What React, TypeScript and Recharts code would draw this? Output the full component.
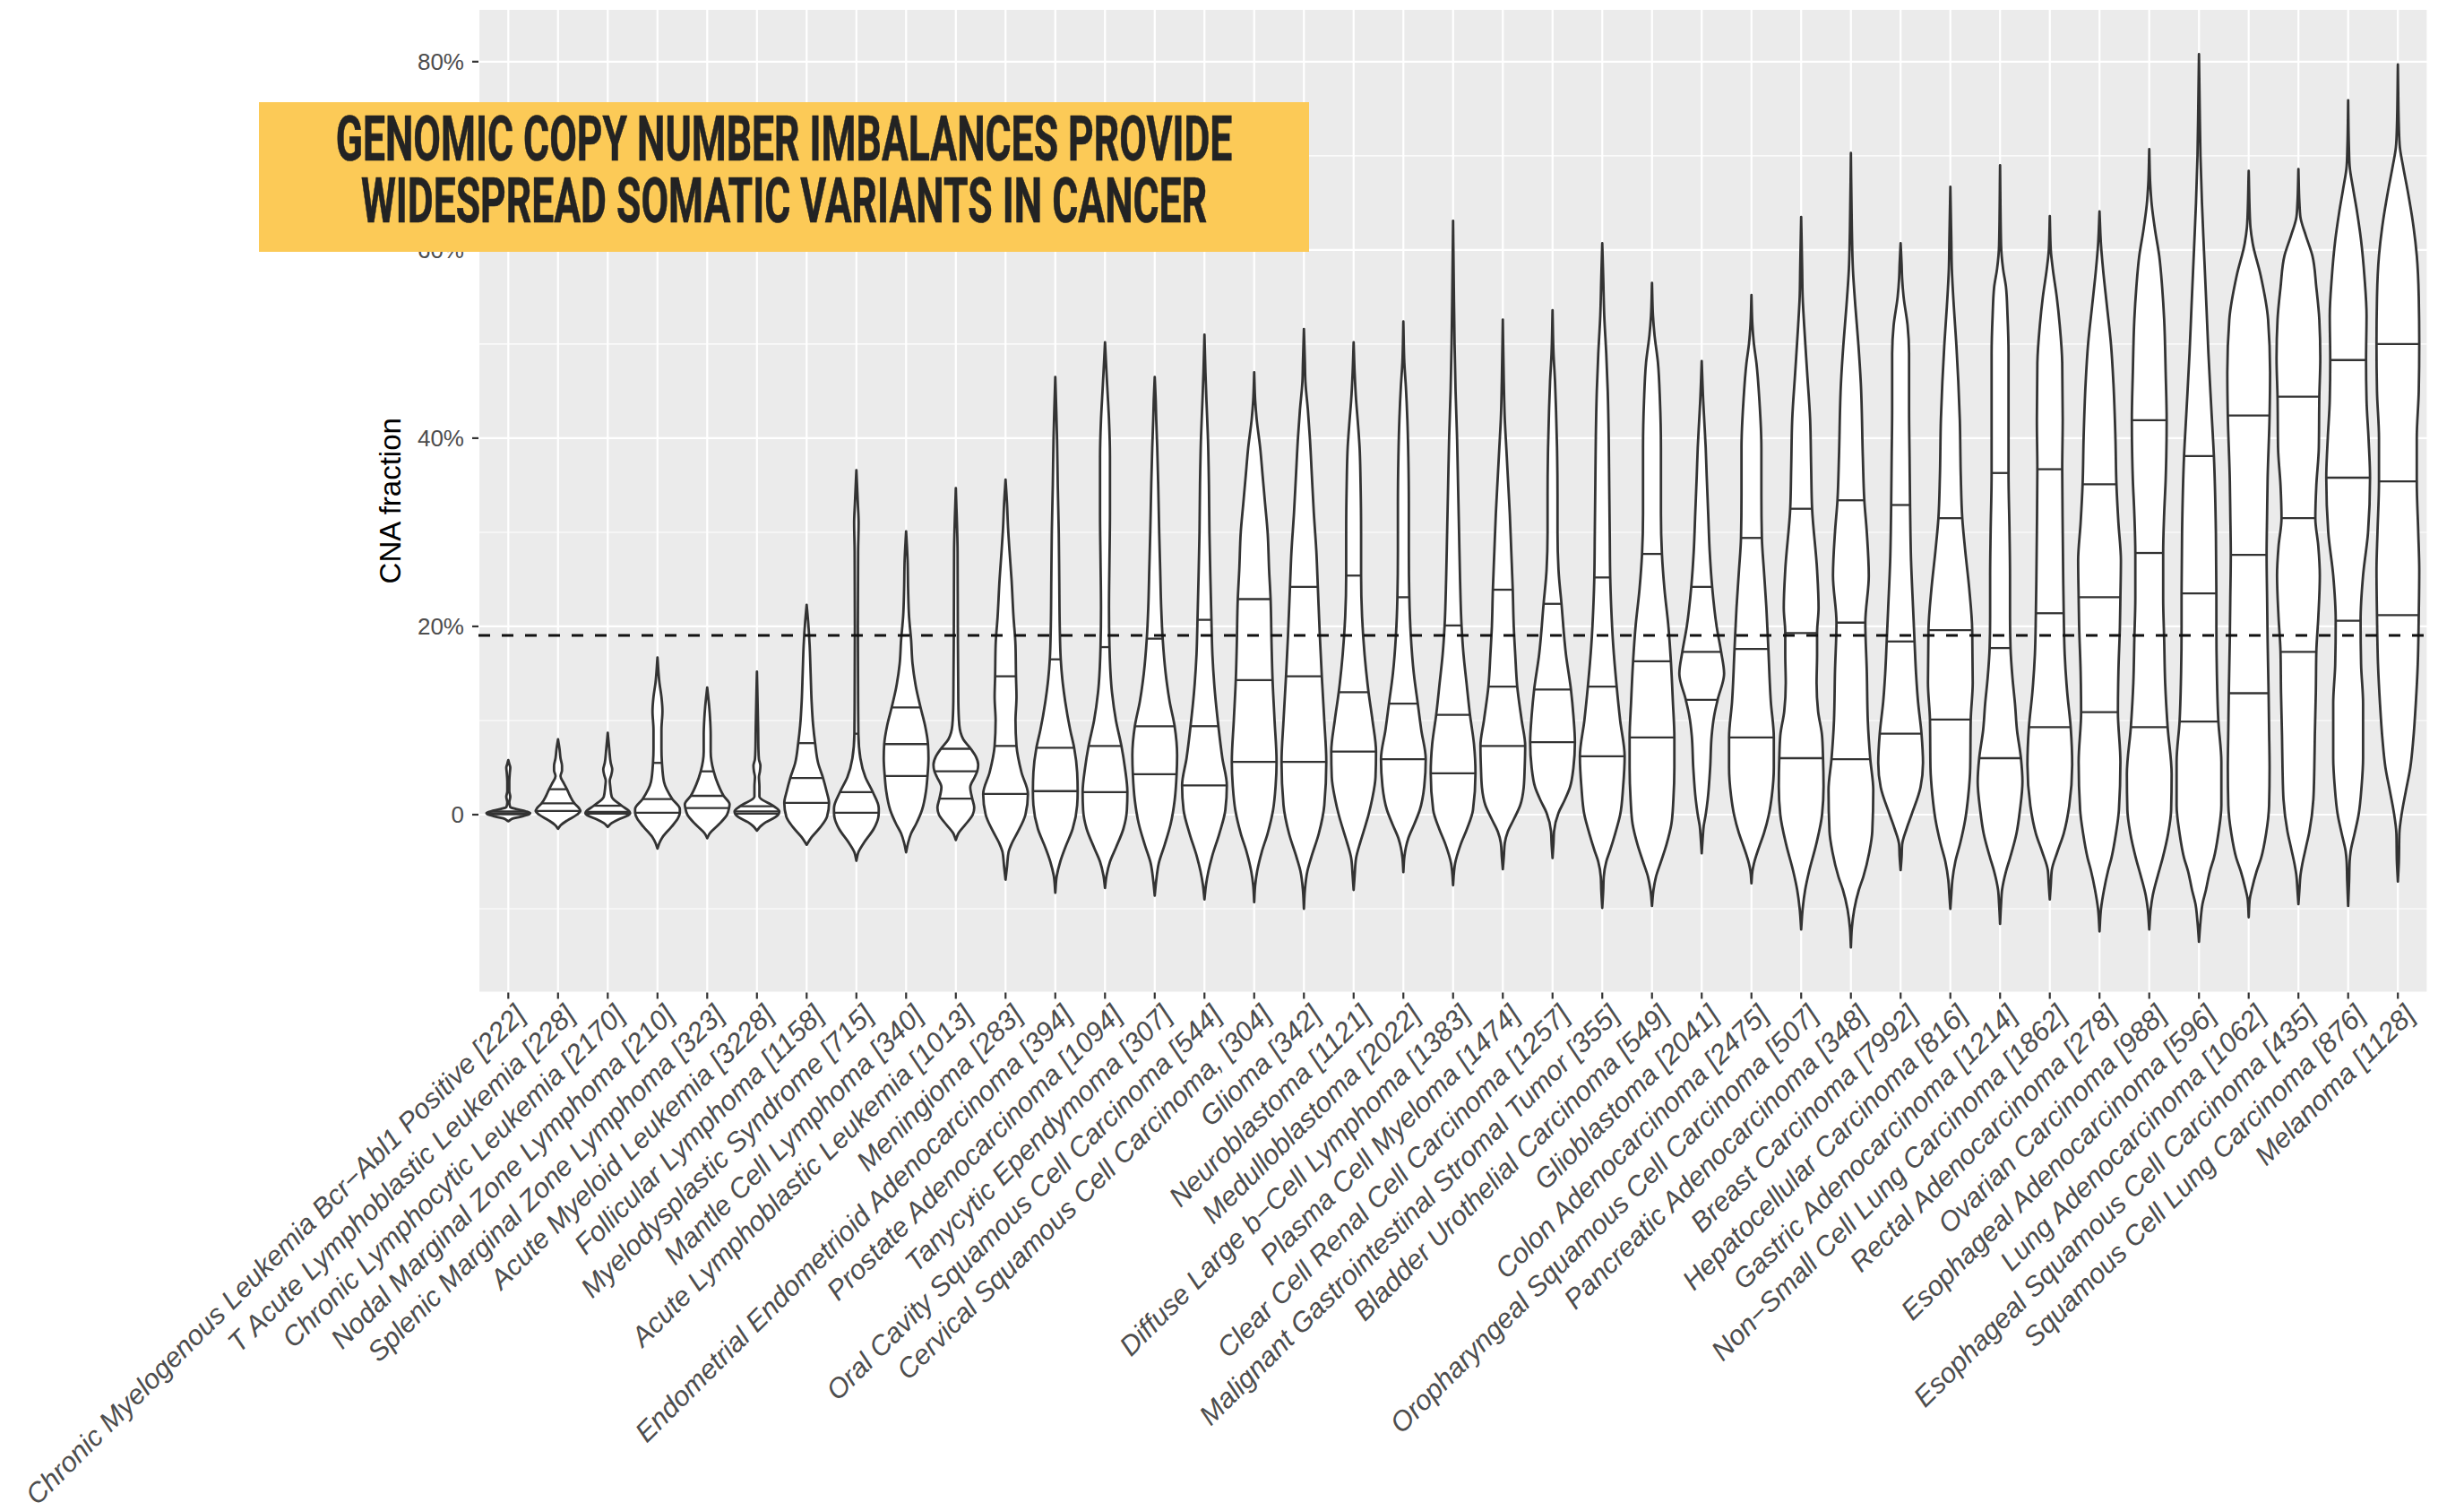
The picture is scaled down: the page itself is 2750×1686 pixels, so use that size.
import React, { useLayoutEffect, useRef, useState } from 'react';
import { ComposedChart, XAxis, YAxis, CartesianGrid, Scatter, ReferenceLine } from 'recharts';

// Tumour types with sample counts, in plotting order
const CATEGORIES: string[] = [
  'Chronic Myelogenous Leukemia Bcr\u2212Abl1 Positive [222]',
  'T Acute Lymphoblastic Leukemia [228]',
  'Chronic Lymphocytic Leukemia [2170]',
  'Nodal Marginal Zone Lymphoma [210]',
  'Splenic Marginal Zone Lymphoma [323]',
  'Acute Myeloid Leukemia [3228]',
  'Follicular Lymphoma [1158]',
  'Myelodysplastic Syndrome [715]',
  'Mantle Cell Lymphoma [340]',
  'Acute Lymphoblastic Leukemia [1013]',
  'Meningioma [283]',
  'Endometrial Endometrioid Adenocarcinoma [394]',
  'Prostate Adenocarcinoma [1094]',
  'Tanycytic Ependymoma [307]',
  'Oral Cavity Squamous Cell Carcinoma [544]',
  'Cervical Squamous Cell Carcinoma, [304]',
  'Glioma [342]',
  'Neuroblastoma [1121]',
  'Medulloblastoma [2022]',
  'Diffuse Large b\u2212Cell Lymphoma [1383]',
  'Plasma Cell Myeloma [1474]',
  'Clear Cell Renal Cell Carcinoma [1257]',
  'Malignant Gastrointestinal Stromal Tumor [355]',
  'Bladder Urothelial Carcinoma [549]',
  'Glioblastoma [2041]',
  'Colon Adenocarcinoma [2475]',
  'Oropharyngeal Squamous Cell Carcinoma [507]',
  'Pancreatic Adenocarcinoma [348]',
  'Breast Carcinoma [7992]',
  'Hepatocellular Carcinoma [816]',
  'Gastric Adenocarcinoma [1214]',
  'Non\u2212Small Cell Lung Carcinoma [1862]',
  'Rectal Adenocarcinoma [278]',
  'Ovarian Carcinoma [988]',
  'Esophageal Adenocarcinoma [596]',
  'Lung Adenocarcinoma [1062]',
  'Esophageal Squamous Cell Carcinoma [435]',
  'Squamous Cell Lung Carcinoma [876]',
  'Melanoma [1128]',
];

type Pt = [number, number]; // [CNA fraction in %, density half-width in category units]

// Kernel density outline of every violin, from lower tip to upper tip
const VIOLIN_PROFILES: Pt[][] = [
  [[-0.7,0],[-0.4,0.1],[-0.15,0.3],[0.6,0.15],[0.8,0.04],[1.3,0.02],[1.9,0.04],[2.5,0.02],[3.5,0.02],[4.4,0.03],[5.0,0.04],[5.4,0.02],[5.8,0]],
  [[-1.5,0],[-1.1,0.06],[-0.6,0.19],[0,0.38],[0.7,0.42],[2,0.24],[3.3,0.12],[4.1,0.05],[4.7,0.08],[5.2,0.08],[6.0,0.05],[7.0,0.03],[8.0,0]],
  [[-1.3,0],[-0.9,0.08],[-0.5,0.22],[-0.1,0.4],[1.9,0.08],[3.0,0.05],[3.6,0.04],[4.2,0.07],[4.8,0.09],[5.5,0.06],[7,0.03],[8.7,0]],
  [[-3.6,0],[-3.0,0.04],[-2.4,0.1],[-1.3,0.28],[-0.4,0.41],[0.6,0.45],[3.5,0.13],[7,0.08],[9,0.08],[11,0.1],[12.5,0.08],[14,0.04],[16.7,0]],
  [[-2.5,0],[-2.0,0.05],[-1,0.24],[0,0.4],[1.1,0.45],[3.2,0.22],[6.7,0.07],[8.5,0.07],[10,0.06],[11.5,0.04],[13.5,0]],
  [[-1.7,0],[-1.2,0.08],[-0.8,0.18],[-0.3,0.36],[1.9,0.05],[3.0,0.05],[4.0,0.04],[4.6,0.06],[5.2,0.07],[5.9,0.04],[7,0.03],[9,0.025],[15.2,0]],
  [[-3.2,0],[-2.4,0.1],[-1.3,0.28],[-0.2,0.41],[2.5,0.4],[5.5,0.23],[9.5,0.13],[12,0.1],[15,0.08],[18,0.06],[20.5,0.03],[22.3,0]],
  [[-4.9,0],[-4,0.04],[-3,0.15],[-1.5,0.35],[-0.3,0.44],[0.7,0.45],[4,0.18],[6,0.08],[12,0.035],[20,0.03],[28,0.035],[31,0.045],[33,0.03],[36.6,0]],
  [[-4,0],[-3,0.04],[-2,0.1],[-1,0.2],[0.5,0.32],[2.5,0.4],[6,0.45],[9.5,0.38],[13.5,0.2],[16,0.13],[18.6,0.1],[21,0.06],[24,0.04],[27,0.03],[30.1,0]],
  [[-2.7,0],[-2,0.05],[-1,0.2],[0,0.34],[0.75,0.37],[2.9,0.29],[4,0.38],[5.3,0.45],[6.2,0.4],[8,0.15],[9.5,0.07],[12,0.05],[20,0.04],[28,0.035],[34.7,0]],
  [[-6.9,0],[-5.5,0.03],[-4,0.06],[-3,0.13],[-1.8,0.25],[0,0.4],[4.5,0.32],[10,0.2],[12.5,0.22],[18,0.2],[21,0.16],[25,0.12],[28,0.08],[30.5,0.05],[33,0.03],[35.6,0]],
  [[-8.3,0],[-6.5,0.03],[-5,0.1],[-3.5,0.2],[-1.5,0.35],[1,0.44],[4.5,0.44],[9,0.3],[12,0.2],[14.5,0.14],[20,0.09],[25,0.08],[30,0.07],[35,0.05],[40,0.035],[43,0.02],[46.5,0]],
  [[-7.8,0],[-6.5,0.03],[-5,0.1],[-3.5,0.22],[-1.5,0.37],[0.5,0.44],[5,0.4],[10,0.22],[13,0.14],[22,0.08],[27,0.09],[32,0.1],[38,0.1],[42,0.08],[45,0.05],[47,0.03],[50.2,0]],
  [[-8.6,0],[-7,0.03],[-5.2,0.08],[-3.2,0.2],[-1,0.32],[1.5,0.4],[6.3,0.45],[12,0.3],[15,0.22],[22,0.13],[26,0.11],[30,0.09],[35,0.07],[39,0.05],[42,0.03],[44,0.02],[46.5,0]],
  [[-9,0],[-7.5,0.03],[-6,0.08],[-4.5,0.15],[-2,0.3],[0.5,0.42],[6,0.36],[13,0.21],[17,0.16],[25,0.12],[30,0.1],[35,0.09],[40,0.07],[44,0.04],[47,0.02],[51,0]],
  [[-9.3,0],[-7.5,0.02],[-6,0.06],[-4,0.15],[-2,0.27],[0.5,0.38],[3,0.43],[10,0.41],[18,0.35],[26,0.3],[30,0.27],[33,0.22],[36,0.17],[39,0.12],[42,0.05],[44,0.02],[47,0]],
  [[-10,0],[-8,0.02],[-6,0.07],[-4.5,0.15],[-2,0.3],[1,0.41],[10,0.41],[19,0.32],[28,0.25],[32,0.2],[36,0.16],[40,0.12],[43,0.08],[46,0.03],[48,0.02],[51.6,0]],
  [[-8,0],[-6.5,0.02],[-4.6,0.05],[-3,0.13],[-1.8,0.2],[0,0.3],[1.6,0.37],[4,0.44],[10,0.38],[17,0.22],[21,0.17],[30,0.15],[35,0.14],[39,0.12],[42,0.08],[44,0.05],[47,0.02],[50.2,0]],
  [[-6.1,0],[-4.5,0.02],[-3.5,0.05],[-2.5,0.1],[-1,0.22],[0.5,0.33],[3,0.42],[9,0.36],[15,0.21],[19,0.15],[28,0.11],[33,0.11],[38,0.1],[42,0.08],[45.5,0.05],[48,0.02],[52.4,0]],
  [[-7.5,0],[-6,0.02],[-5.2,0.04],[-3.2,0.15],[-1.5,0.28],[0.5,0.4],[7.5,0.42],[14,0.27],[17,0.21],[25,0.14],[30,0.12],[35,0.1],[40,0.08],[45,0.05],[50,0.03],[56,0.015],[63.1,0]],
  [[-5.8,0],[-4.5,0.02],[-3,0.04],[-1.8,0.1],[-0.5,0.22],[1,0.35],[2.9,0.42],[5,0.44],[10,0.38],[17,0.25],[20,0.22],[28,0.17],[32,0.14],[36,0.1],[39,0.07],[42,0.04],[46,0.02],[52.6,0]],
  [[-4.6,0],[-3,0.02],[-1.8,0.03],[0.2,0.12],[1.5,0.24],[2.9,0.35],[5,0.42],[10.5,0.42],[17,0.27],[26,0.12],[30,0.1],[34,0.1],[39,0.09],[43,0.07],[46,0.05],[49,0.02],[53.6,0]],
  [[-9.9,0],[-8,0.02],[-6.6,0.03],[-5,0.08],[-3.9,0.15],[-2,0.26],[0,0.36],[3,0.42],[10,0.36],[18,0.22],[22,0.18],[30,0.15],[35,0.14],[40,0.13],[45,0.11],[49,0.08],[53,0.04],[57,0.02],[60.7,0]],
  [[-9.7,0],[-8,0.03],[-6.6,0.08],[-5,0.18],[-3.2,0.29],[-1,0.39],[1.6,0.43],[5,0.45],[12,0.42],[20,0.33],[24,0.25],[32,0.18],[39,0.18],[44,0.16],[48,0.12],[51,0.05],[53,0.02],[56.5,0]],
  [[-4.1,0],[-2.5,0.02],[-1.2,0.04],[0,0.08],[1.6,0.12],[5,0.17],[8.4,0.2],[10.5,0.25],[15,0.45],[20,0.3],[28,0.16],[32,0.13],[36,0.1],[39,0.08],[42,0.05],[44,0.03],[48.2,0]],
  [[-7.3,0],[-6,0.02],[-5.2,0.05],[-3.5,0.15],[-2,0.25],[0,0.35],[2,0.41],[5,0.45],[12,0.39],[22,0.3],[26,0.25],[34,0.2],[39,0.2],[44,0.16],[48,0.1],[50,0.05],[52,0.02],[55.2,0]],
  [[-12.2,0],[-10,0.03],[-8,0.08],[-6,0.16],[-3.2,0.3],[0,0.42],[3,0.45],[8.4,0.42],[11,0.34],[14,0.31],[17,0.32],[22,0.35],[26,0.32],[37,0.2],[42,0.18],[47,0.12],[52,0.06],[55,0.03],[58,0.02],[63.5,0]],
  [[-14.1,0],[-12,0.02],[-10,0.07],[-8,0.16],[-6.6,0.25],[-4,0.37],[-1.8,0.43],[2.6,0.45],[10,0.34],[15.2,0.32],[25.4,0.36],[30,0.32],[38,0.24],[45.8,0.2],[50,0.15],[54,0.09],[58,0.04],[62,0.02],[70.3,0]],
  [[-5.9,0],[-4.5,0.02],[-3.2,0.03],[-1.5,0.12],[0,0.22],[2.9,0.4],[5.5,0.45],[12,0.35],[15,0.31],[22,0.25],[27,0.21],[38,0.18],[43,0.17],[49,0.17],[52,0.14],[55,0.06],[57,0.03],[58.5,0.02],[60.7,0]],
  [[-10,0],[-8.5,0.02],[-7,0.04],[-5,0.1],[-3,0.2],[-0.5,0.3],[2,0.36],[5,0.4],[14,0.45],[24,0.38],[28,0.3],[36,0.21],[42,0.19],[46,0.16],[50,0.12],[54,0.07],[58,0.03],[61,0.02],[66.7,0]],
  [[-11.6,0],[-9.5,0.02],[-8,0.04],[-6,0.12],[-4.6,0.2],[-2,0.33],[0.5,0.4],[3.5,0.45],[9,0.34],[11.8,0.3],[14.5,0.25],[21,0.2],[25.4,0.2],[30,0.19],[43,0.17],[49,0.17],[53,0.15],[56,0.12],[58,0.06],[60.5,0.02],[69,0]],
  [[-9,0],[-7.5,0.02],[-5.9,0.04],[-4,0.15],[-2,0.28],[0.9,0.39],[5.3,0.45],[13,0.35],[17,0.3],[25,0.27],[30,0.26],[42,0.26],[48,0.25],[52,0.2],[55,0.14],[58,0.06],[60,0.02],[63.6,0]],
  [[-12.4,0],[-10,0.03],[-8,0.09],[-6,0.17],[-4.6,0.24],[-2,0.33],[0.5,0.39],[5.6,0.42],[15.2,0.38],[20,0.41],[27,0.43],[31,0.38],[40,0.32],[45.8,0.28],[50,0.23],[54,0.15],[58,0.07],[60.5,0.03],[64.1,0]],
  [[-12.2,0],[-10,0.03],[-8.6,0.07],[-6.5,0.17],[-4.6,0.27],[-2,0.38],[0.5,0.44],[4.3,0.45],[14,0.32],[18.6,0.3],[23,0.28],[32,0.3],[35.6,0.33],[47,0.33],[52.6,0.3],[56,0.26],[59.4,0.2],[62,0.12],[64.8,0.05],[67,0.02],[70.7,0]],
  [[-13.5,0],[-11.4,0.03],[-9.5,0.07],[-8,0.14],[-6,0.22],[-4.6,0.3],[-2,0.39],[1,0.45],[5.6,0.45],[15,0.36],[20,0.35],[30,0.34],[43,0.25],[49,0.19],[54,0.15],[60,0.1],[65,0.06],[70,0.03],[75,0.015],[80.8,0]],
  [[-10.9,0],[-9,0.02],[-8,0.06],[-6,0.16],[-4.6,0.25],[-2,0.35],[1,0.41],[5,0.42],[9,0.41],[18.6,0.38],[23,0.37],[32,0.37],[35.6,0.38],[47,0.43],[52.6,0.39],[57.3,0.24],[60.7,0.08],[62.8,0.03],[68.4,0]],
  [[-9.5,0],[-8,0.02],[-6.5,0.04],[-5.2,0.08],[-3.5,0.15],[-1.8,0.22],[1.6,0.3],[5,0.32],[8.4,0.33],[13,0.35],[21,0.4],[25.4,0.43],[28.5,0.4],[35,0.36],[39,0.41],[48.5,0.44],[52.6,0.42],[56,0.36],[59.4,0.28],[61.5,0.15],[63.5,0.04],[65,0.02],[68.6,0]],
  [[-9.7,0],[-7,0.02],[-5,0.03],[-3.9,0.05],[-2,0.13],[0,0.21],[3,0.27],[6,0.3],[11.8,0.3],[16,0.26],[25.4,0.3],[30,0.4],[40,0.41],[44,0.37],[53,0.37],[57,0.33],[61,0.26],[64,0.18],[66.5,0.1],[68.9,0.03],[71,0.015],[75.9,0]],
  [[-7.1,0],[-5,0.02],[-2,0.03],[0.2,0.08],[2.5,0.16],[5,0.25],[8,0.31],[11.8,0.36],[16,0.4],[26,0.43],[30,0.41],[40,0.38],[45,0.42],[55,0.42],[59.4,0.38],[63,0.3],[66.2,0.2],[69,0.1],[70.9,0.04],[73,0.02],[79.7,0]],
];

// 25th, 50th and 75th percentiles of each violin with the density half-width there
const VIOLIN_QUARTILES: Pt[][] = [
  [[0.05,0.42],[0.16,0.44],[0.35,0.35]],
  [[0.4,0.45],[1.2,0.33],[2.7,0.18]],
  [[0.12,0.45],[0.3,0.44],[0.95,0.28]],
  [[0.2,0.45],[1.65,0.3],[5.5,0.09]],
  [[0.7,0.44],[2.0,0.33],[4.6,0.13]],
  [[0.1,0.44],[0.35,0.45],[0.9,0.34]],
  [[1.25,0.45],[3.9,0.33],[7.6,0.17]],
  [[0.2,0.45],[2.4,0.33],[8.6,0.04]],
  [[4.1,0.43],[7.5,0.44],[11.4,0.29]],
  [[1.7,0.33],[4.6,0.43],[7,0.3]],
  [[2.2,0.45],[7.3,0.22],[14.7,0.21]],
  [[2.5,0.45],[7.1,0.38],[16.5,0.11]],
  [[2.4,0.45],[7.3,0.33],[17.8,0.09]],
  [[4.3,0.44],[9.4,0.4],[18.7,0.16]],
  [[3.1,0.45],[9.4,0.28],[20.7,0.14]],
  [[5.6,0.45],[14.3,0.37],[22.9,0.33]],
  [[5.6,0.45],[14.7,0.36],[24.2,0.28]],
  [[6.7,0.45],[13,0.3],[25.4,0.15]],
  [[5.9,0.45],[11.8,0.29],[23.1,0.12]],
  [[4.4,0.45],[10.6,0.34],[20.1,0.17]],
  [[7.3,0.45],[13.6,0.29],[23.9,0.2]],
  [[7.7,0.45],[13.3,0.37],[22.4,0.18]],
  [[6.2,0.45],[13.6,0.29],[25.2,0.16]],
  [[8.2,0.45],[16.3,0.38],[27.7,0.2]],
  [[12.2,0.32],[17.3,0.39],[24.2,0.21]],
  [[8.2,0.45],[17.6,0.34],[29.4,0.21]],
  [[6,0.44],[19.3,0.32],[32.5,0.22]],
  [[5.9,0.39],[20.4,0.29],[33.4,0.27]],
  [[8.6,0.42],[18.4,0.28],[32.9,0.19]],
  [[10.1,0.41],[19.6,0.44],[31.5,0.24]],
  [[6,0.42],[17.7,0.21],[36.3,0.17]],
  [[9.3,0.42],[21.4,0.28],[36.7,0.25]],
  [[10.9,0.37],[23.1,0.42],[35.1,0.34]],
  [[9.3,0.37],[27.8,0.28],[41.9,0.35]],
  [[9.9,0.39],[23.5,0.35],[38.1,0.3]],
  [[12.9,0.4],[27.6,0.36],[42.4,0.42]],
  [[17.3,0.36],[31.5,0.34],[44.4,0.42]],
  [[20.6,0.25],[35.8,0.44],[48.3,0.36]],
  [[21.2,0.42],[35.4,0.38],[50,0.43]],
];

const Y_TICKS = [0, 20, 40, 60, 80];
const Y_MINOR_TICKS = [-10, 10, 30, 50, 70];
const Y_DOMAIN: [number, number] = [-18.9, 85.6];
const X_DOMAIN: [number, number] = [0.4, 39.6];
const X_TICKS = CATEGORIES.map((_, i) => i + 1);
const OVERALL_MEDIAN = 19.05; // pan-cancer reference level, %

const TITLE_LINES = ['GENOMIC COPY NUMBER IMBALANCES PROVIDE', 'WIDESPREAD SOMATIC VARIANTS IN CANCER'];

const W = 2750;
const H = 1686;
const FONT = '"Liberation Sans", Arial, Helvetica, sans-serif';
const TITLE_FONT = 'Roboto, "DejaVu Sans", sans-serif';
const INK = '#333333';

type XY = { x: number; y: number };

// left edge bottom->top, then right edge top->bottom
function buildOutline(pos: number, profile: Pt[], quartiles: Pt[]): XY[] {
  const merged = [...profile, ...quartiles].sort((a, b) => a[0] - b[0]);
  const pts: Pt[] = [];
  for (const p of merged) {
    if (pts.length && Math.abs(pts[pts.length - 1][0] - p[0]) < 1e-6) continue;
    pts.push(p);
  }
  const left = pts.map(([v, w]) => ({ x: pos - w, y: v }));
  const right = [...pts].reverse().map(([v, w]) => ({ x: pos + w, y: v }));
  return [...left, ...right];
}

// Monotone cubic through points ordered along the vertical direction (x as a function of y)
function monotoneAlongY(p: XY[]): string {
  const n = p.length;
  if (n < 2) return '';
  const h: number[] = [];
  const s: number[] = [];
  for (let k = 0; k < n - 1; k++) {
    const dy = p[k + 1].y - p[k].y || 1e-6;
    h.push(dy);
    s.push((p[k + 1].x - p[k].x) / dy);
  }
  const m: number[] = new Array(n).fill(0);
  m[0] = s[0];
  m[n - 1] = s[n - 2];
  for (let k = 1; k < n - 1; k++) {
    const a = s[k - 1];
    const b = s[k];
    if (a * b <= 0) { m[k] = 0; continue; }
    const q = (a * h[k] + b * h[k - 1]) / (h[k - 1] + h[k]);
    m[k] = (Math.sign(a) + Math.sign(b)) * Math.min(Math.abs(a), Math.abs(b), 0.5 * Math.abs(q));
  }
  let d = '';
  for (let k = 0; k < n - 1; k++) {
    const dt = h[k] / 3;
    d += `C${p[k].x + m[k] * dt},${p[k].y + dt} ${p[k + 1].x - m[k + 1] * dt},${p[k + 1].y - dt} ${p[k + 1].x},${p[k + 1].y}`;
  }
  return d;
}

const renderViolin = (props: any) => {
  const pts: XY[] = (props && props.points) || [];
  const half = Math.floor(pts.length / 2);
  if (half < 2) return <g />;
  const left = pts.slice(0, half);
  const right = pts.slice(half);
  const d = `M${left[0].x},${left[0].y}` + monotoneAlongY(left) + monotoneAlongY(right) + 'Z';
  return <path d={d} fill="#FFFFFF" stroke={INK} strokeWidth={2.8} strokeLinejoin="round" />;
};

const renderNothing = () => <g />;

const XTick = (props: any) => {
  const { x, y, payload } = props;
  const label = CATEGORIES[Number(payload.value) - 1] || '';
  return (
    <text
      transform={`translate(${x + 5},${y + 2}) rotate(-45)`}
      textAnchor="end"
      dy="0.72em"
      fontSize={31}
      fontStyle="italic"
      fontFamily={FONT}
      fill="#4D4D4D"
    >
      {label}
    </text>
  );
};

const renderYTitle = (props: any) => {
  const vb = (props && props.viewBox) || { x: 0, y: 10, width: 534, height: 1097.5 };
  const cx = vb.x + vb.width - 87.5;
  const cy = vb.y + vb.height / 2;
  return (
    <text x={cx} y={cy} transform={`rotate(-90 ${cx} ${cy})`} textAnchor="middle" fontSize={33} fontFamily={FONT} fill="#000000">
      CNA fraction
    </text>
  );
};

const pctLabel = (v: number) => (v === 0 ? '0' : `${v}%`);

// Two-line headline, squeezed horizontally so the first line spans the given width
function Headline({ cx, width }: { cx: number; width: number }) {
  const ref = useRef<SVGTextElement>(null);
  const [sx, setSx] = useState(0.58);
  useLayoutEffect(() => {
    const el = ref.current;
    if (!el) return;
    const first = el.querySelector('tspan') as SVGTextContentElement | null;
    const natural = first ? first.getComputedTextLength() : 0;
    if (natural > 0) setSx(width / natural);
  }, [width]);
  return (
    <text
      ref={ref}
      transform={`translate(${cx},0) scale(${sx},1)`}
      textAnchor="middle"
      fontFamily={TITLE_FONT}
      fontWeight={700}
      fontSize={70}
      fill="#232323"
      stroke="#232323"
      strokeWidth={0.6}
    >
      <tspan x={0} y={65}>{TITLE_LINES[0]}</tspan>
      <tspan x={0} y={134.3}>{TITLE_LINES[1]}</tspan>
    </text>
  );
}

export default function App() {
  return (
    <div style={{ position: 'absolute', left: 0, top: 0, width: W, height: H, background: '#FFFFFF' }}>
      <ComposedChart width={W} height={H} margin={{ top: 10, right: 40.5, bottom: 0, left: 0 }}>
        <CartesianGrid fill="#EBEBEB" stroke="#FFFFFF" strokeWidth={2.2} />
        <CartesianGrid vertical={false} horizontalValues={Y_MINOR_TICKS} stroke="#FFFFFF" strokeWidth={1.1} />
        <XAxis
          type="number"
          dataKey="x"
          domain={X_DOMAIN}
          allowDataOverflow
          ticks={X_TICKS}
          interval={0}
          height={578.5}
          axisLine={false}
          tickLine={{ stroke: INK, strokeWidth: 2.2 }}
          tickSize={7}
          tickMargin={2}
          tick={<XTick />}
        />
        <YAxis
          type="number"
          dataKey="y"
          domain={Y_DOMAIN}
          allowDataOverflow
          ticks={Y_TICKS}
          interval={0}
          width={534}
          axisLine={false}
          tickLine={{ stroke: INK, strokeWidth: 2.2 }}
          tickSize={7}
          tickMargin={9}
          tickFormatter={pctLabel}
          tick={{ fontSize: 26, fill: '#4D4D4D', fontFamily: FONT }}
          label={renderYTitle}
        />
        {CATEGORIES.map((name, i) => {
          const pos = i + 1;
          const outline = buildOutline(pos, VIOLIN_PROFILES[i], VIOLIN_QUARTILES[i]);
          return (
            <Scatter
              key={`violin-${i}`}
              name={name}
              data={outline}
              line={renderViolin}
              shape={renderNothing}
              legendType="none"
              isAnimationActive={false}
            />
          );
        })}
        {CATEGORIES.flatMap((name, i) =>
          VIOLIN_QUARTILES[i].map(([v, w], j) => (
            <Scatter
              key={`q-${i}-${j}`}
              name={`${name} q${j + 1}`}
              data={[{ x: i + 1 - w, y: v }, { x: i + 1 + w, y: v }]}
              line={{ stroke: INK, strokeWidth: 2.3 }}
              shape={renderNothing}
              legendType="none"
              isAnimationActive={false}
            />
          ))
        )}
        <ReferenceLine
          y={OVERALL_MEDIAN}
          stroke="#111111"
          strokeWidth={3}
          strokeDasharray="13 13"
          ifOverflow="extendDomain"
          zIndex={900}
        />
      </ComposedChart>
      <div
        style={{
          position: 'absolute',
          left: 289,
          top: 114,
          width: 1172,
          height: 167,
          background: '#FCCA57',
        }}
      >
        <svg width={1172} height={167} style={{ display: 'block' }}>
          <Headline cx={586} width={1001} />
        </svg>
      </div>
    </div>
  );
}
